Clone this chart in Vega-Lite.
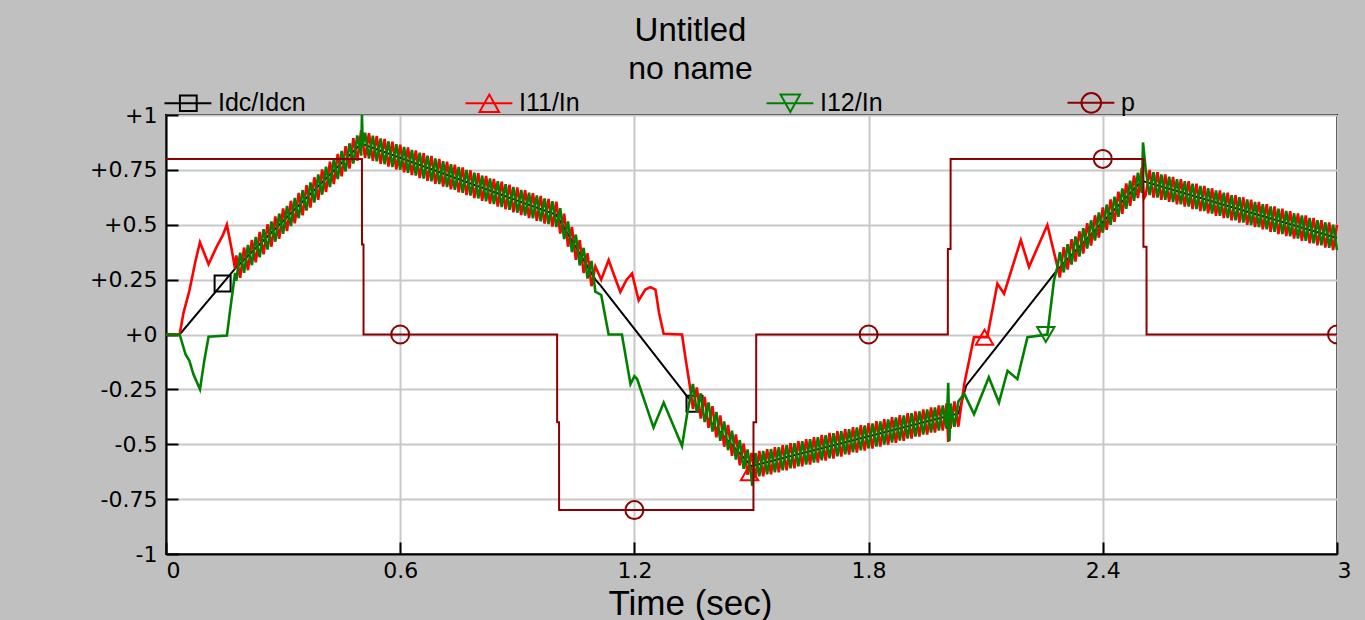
{
  "$schema": "https://vega.github.io/schema/vega-lite/v6.json",
  "width": 1171,
  "height": 439,
  "autosize": {"type": "none"},
  "padding": {"left": 166, "top": 115, "right": 28, "bottom": 66},
  "background": "#c0c0c0",
  "title": {
    "text": "Untitled",
    "subtitle": "no name",
    "anchor": "middle",
    "frame": "group",
    "dx": -61,
    "font": "Liberation Sans",
    "fontSize": 33,
    "fontWeight": "normal",
    "color": "black",
    "subtitleFont": "Liberation Sans",
    "subtitleFontSize": 32,
    "subtitleColor": "black",
    "subtitlePadding": 6,
    "offset": 5
  },
  "config": {
    "view": {"fill": "white", "stroke": "black", "strokeWidth": 2},
    "axis": {
      "grid": true,
      "gridColor": "#c8c8c8",
      "gridWidth": 2,
      "domainColor": "black",
      "domainWidth": 2,
      "tickColor": "black",
      "tickWidth": 2,
      "tickSize": -12,
      "labelFont": "DejaVu Sans",
      "labelFontSize": 22,
      "labelColor": "black",
      "titleFont": "Liberation Sans",
      "titleFontWeight": "normal",
      "titleColor": "black"
    }
  },
  "datasets": {
    "idc": [
      {"t":0,"v":0},{"t":0.035,"v":0},{"t":0.177,"v":0.30},{"t":0.5,"v":0.87},{"t":1.0,"v":0.545},{"t":1.10,"v":0.25},{"t":1.113,"v":0.224},{"t":1.335,"v":-0.282},{"t":1.5,"v":-0.6},{"t":2.03,"v":-0.36},{"t":2.05,"v":-0.233},{"t":2.284,"v":0.295},{"t":2.5,"v":0.70},{"t":3.0,"v":0.44}
    ],
    "i11": [
      {"t":0,"v":0},{"t":0.035,"v":0},{"t":0.045,"v":0.1},{"t":0.06,"v":0.2},{"t":0.075,"v":0.33},{"t":0.087,"v":0.42},{"t":0.098,"v":0.37},{"t":0.109,"v":0.32},{"t":0.13,"v":0.40},{"t":0.145,"v":0.45},{"t":0.156,"v":0.50},{"t":0.167,"v":0.40},{"t":0.177,"v":0.30},
      {"t":0.18,"v":0.360},{"t":0.19,"v":0.258},{"t":0.20,"v":0.396},{"t":0.21,"v":0.293},{"t":0.22,"v":0.431},{"t":0.23,"v":0.329},{"t":0.24,"v":0.467},{"t":0.25,"v":0.365},{"t":0.26,"v":0.502},{"t":0.27,"v":0.400},{"t":0.28,"v":0.538},{"t":0.29,"v":0.436},{"t":0.30,"v":0.574},{"t":0.31,"v":0.471},{"t":0.32,"v":0.609},{"t":0.33,"v":0.507},{"t":0.34,"v":0.645},{"t":0.35,"v":0.543},{"t":0.36,"v":0.680},{"t":0.37,"v":0.578},{"t":0.38,"v":0.716},{"t":0.39,"v":0.614},{"t":0.40,"v":0.752},{"t":0.41,"v":0.649},{"t":0.42,"v":0.787},{"t":0.43,"v":0.685},{"t":0.44,"v":0.823},{"t":0.45,"v":0.721},{"t":0.46,"v":0.858},{"t":0.47,"v":0.756},{"t":0.48,"v":0.894},{"t":0.49,"v":0.792},{"t":0.50,"v":0.930},
      {"t":0.51,"v":0.804},{"t":0.52,"v":0.917},{"t":0.53,"v":0.791},{"t":0.54,"v":0.904},{"t":0.55,"v":0.778},{"t":0.56,"v":0.891},{"t":0.57,"v":0.765},{"t":0.58,"v":0.878},{"t":0.59,"v":0.752},{"t":0.60,"v":0.865},{"t":0.61,"v":0.739},{"t":0.62,"v":0.852},{"t":0.63,"v":0.726},{"t":0.64,"v":0.839},{"t":0.65,"v":0.713},{"t":0.66,"v":0.826},{"t":0.67,"v":0.700},{"t":0.68,"v":0.813},{"t":0.69,"v":0.687},{"t":0.70,"v":0.800},{"t":0.71,"v":0.674},{"t":0.72,"v":0.787},{"t":0.73,"v":0.661},{"t":0.74,"v":0.774},{"t":0.75,"v":0.648},{"t":0.76,"v":0.761},{"t":0.77,"v":0.635},{"t":0.78,"v":0.748},{"t":0.79,"v":0.622},{"t":0.80,"v":0.735},{"t":0.81,"v":0.609},{"t":0.82,"v":0.722},{"t":0.83,"v":0.596},{"t":0.84,"v":0.709},{"t":0.85,"v":0.583},{"t":0.86,"v":0.696},{"t":0.87,"v":0.570},{"t":0.88,"v":0.683},{"t":0.89,"v":0.557},{"t":0.90,"v":0.670},{"t":0.91,"v":0.544},{"t":0.92,"v":0.657},{"t":0.93,"v":0.531},{"t":0.94,"v":0.644},{"t":0.95,"v":0.518},{"t":0.96,"v":0.631},{"t":0.97,"v":0.505},{"t":0.98,"v":0.618},{"t":0.99,"v":0.492},{"t":1.00,"v":0.605},
      {"t":1.01,"v":0.460},{"t":1.02,"v":0.550},{"t":1.03,"v":0.400},{"t":1.04,"v":0.490},{"t":1.05,"v":0.340},{"t":1.06,"v":0.430},{"t":1.07,"v":0.280},{"t":1.08,"v":0.370},{"t":1.09,"v":0.220},{"t":1.10,"v":0.310},
      {"t":1.115,"v":0.25},{"t":1.134,"v":0.339},{"t":1.148,"v":0.27},{"t":1.164,"v":0.194},{"t":1.18,"v":0.25},{"t":1.194,"v":0.278},{"t":1.211,"v":0.155},{"t":1.228,"v":0.205},{"t":1.241,"v":0.216},{"t":1.254,"v":0.205},{"t":1.263,"v":0.10},{"t":1.275,"v":0.003},{"t":1.322,"v":0.0},{"t":1.332,"v":-0.12},{"t":1.344,"v":-0.256},
      {"t":1.35,"v":-0.340},{"t":1.36,"v":-0.241},{"t":1.37,"v":-0.383},{"t":1.38,"v":-0.284},{"t":1.39,"v":-0.425},{"t":1.40,"v":-0.327},{"t":1.41,"v":-0.468},{"t":1.42,"v":-0.369},{"t":1.43,"v":-0.511},{"t":1.44,"v":-0.412},{"t":1.45,"v":-0.553},{"t":1.46,"v":-0.455},{"t":1.47,"v":-0.596},{"t":1.48,"v":-0.497},{"t":1.49,"v":-0.639},{"t":1.50,"v":-0.540},
      {"t":1.51,"v":-0.655},{"t":1.52,"v":-0.531},{"t":1.53,"v":-0.646},{"t":1.54,"v":-0.522},{"t":1.55,"v":-0.637},{"t":1.56,"v":-0.513},{"t":1.57,"v":-0.628},{"t":1.58,"v":-0.504},{"t":1.59,"v":-0.619},{"t":1.60,"v":-0.495},{"t":1.61,"v":-0.610},{"t":1.62,"v":-0.486},{"t":1.63,"v":-0.601},{"t":1.64,"v":-0.477},{"t":1.65,"v":-0.592},{"t":1.66,"v":-0.468},{"t":1.67,"v":-0.583},{"t":1.68,"v":-0.458},{"t":1.69,"v":-0.574},{"t":1.70,"v":-0.449},{"t":1.71,"v":-0.565},{"t":1.72,"v":-0.440},{"t":1.73,"v":-0.556},{"t":1.74,"v":-0.431},{"t":1.75,"v":-0.547},{"t":1.76,"v":-0.422},{"t":1.77,"v":-0.538},{"t":1.78,"v":-0.413},{"t":1.79,"v":-0.529},{"t":1.80,"v":-0.404},{"t":1.81,"v":-0.520},{"t":1.82,"v":-0.395},{"t":1.83,"v":-0.511},{"t":1.84,"v":-0.386},{"t":1.85,"v":-0.502},{"t":1.86,"v":-0.377},{"t":1.87,"v":-0.493},{"t":1.88,"v":-0.368},{"t":1.89,"v":-0.484},{"t":1.90,"v":-0.359},{"t":1.91,"v":-0.474},{"t":1.92,"v":-0.350},{"t":1.93,"v":-0.465},{"t":1.94,"v":-0.341},{"t":1.95,"v":-0.456},{"t":1.96,"v":-0.332},{"t":1.97,"v":-0.447},{"t":1.98,"v":-0.323},{"t":1.99,"v":-0.438},{"t":2.00,"v":-0.314},{"t":2.004,"v":-0.49},{"t":2.007,"v":-0.33},{"t":2.01,"v":-0.429},{"t":2.02,"v":-0.305},{"t":2.03,"v":-0.420},
      {"t":2.045,"v":-0.226},{"t":2.07,"v":-0.012},{"t":2.104,"v":-0.012},{"t":2.13,"v":0.232},{"t":2.147,"v":0.186},{"t":2.19,"v":0.43},{"t":2.211,"v":0.308},{"t":2.258,"v":0.499},{"t":2.284,"v":0.308},
      {"t":2.29,"v":0.260},{"t":2.30,"v":0.398},{"t":2.31,"v":0.296},{"t":2.32,"v":0.434},{"t":2.33,"v":0.332},{"t":2.34,"v":0.470},{"t":2.35,"v":0.369},{"t":2.36,"v":0.507},{"t":2.37,"v":0.405},{"t":2.38,"v":0.543},{"t":2.39,"v":0.441},{"t":2.40,"v":0.579},{"t":2.41,"v":0.477},{"t":2.42,"v":0.615},{"t":2.43,"v":0.513},{"t":2.44,"v":0.651},{"t":2.45,"v":0.550},{"t":2.46,"v":0.688},{"t":2.47,"v":0.586},{"t":2.48,"v":0.724},{"t":2.49,"v":0.622},{"t":2.50,"v":0.760},{"t":2.505,"v":0.62},
      {"t":2.51,"v":0.635},{"t":2.52,"v":0.750},{"t":2.53,"v":0.624},{"t":2.54,"v":0.739},{"t":2.55,"v":0.614},{"t":2.56,"v":0.729},{"t":2.57,"v":0.604},{"t":2.58,"v":0.718},{"t":2.59,"v":0.593},{"t":2.60,"v":0.708},{"t":2.61,"v":0.583},{"t":2.62,"v":0.698},{"t":2.63,"v":0.572},{"t":2.64,"v":0.687},{"t":2.65,"v":0.562},{"t":2.66,"v":0.677},{"t":2.67,"v":0.552},{"t":2.68,"v":0.666},{"t":2.69,"v":0.541},{"t":2.70,"v":0.656},{"t":2.71,"v":0.531},{"t":2.72,"v":0.646},{"t":2.73,"v":0.520},{"t":2.74,"v":0.635},{"t":2.75,"v":0.510},{"t":2.76,"v":0.625},{"t":2.77,"v":0.500},{"t":2.78,"v":0.614},{"t":2.79,"v":0.489},{"t":2.80,"v":0.604},{"t":2.81,"v":0.479},{"t":2.82,"v":0.594},{"t":2.83,"v":0.468},{"t":2.84,"v":0.583},{"t":2.85,"v":0.458},{"t":2.86,"v":0.573},{"t":2.87,"v":0.448},{"t":2.88,"v":0.562},{"t":2.89,"v":0.437},{"t":2.90,"v":0.552},{"t":2.91,"v":0.427},{"t":2.92,"v":0.542},{"t":2.93,"v":0.416},{"t":2.94,"v":0.531},{"t":2.95,"v":0.406},{"t":2.96,"v":0.521},{"t":2.97,"v":0.396},{"t":2.98,"v":0.510},{"t":2.99,"v":0.385},{"t":3.00,"v":0.500}
    ],
    "i12": [
      {"t":0,"v":0},{"t":0.035,"v":0},{"t":0.05,"v":-0.09},{"t":0.06,"v":-0.12},{"t":0.07,"v":-0.18},{"t":0.087,"v":-0.25},{"t":0.098,"v":-0.12},{"t":0.109,"v":-0.01},{"t":0.156,"v":-0.005},{"t":0.165,"v":0.12},{"t":0.177,"v":0.28},
      {"t":0.18,"v":0.245},{"t":0.19,"v":0.373},{"t":0.20,"v":0.281},{"t":0.21,"v":0.408},{"t":0.22,"v":0.316},{"t":0.23,"v":0.444},{"t":0.24,"v":0.352},{"t":0.25,"v":0.480},{"t":0.26,"v":0.387},{"t":0.27,"v":0.515},{"t":0.28,"v":0.423},{"t":0.29,"v":0.551},{"t":0.30,"v":0.459},{"t":0.31,"v":0.586},{"t":0.32,"v":0.494},{"t":0.33,"v":0.622},{"t":0.34,"v":0.530},{"t":0.35,"v":0.658},{"t":0.36,"v":0.565},{"t":0.37,"v":0.693},{"t":0.38,"v":0.601},{"t":0.39,"v":0.729},{"t":0.40,"v":0.637},{"t":0.41,"v":0.764},{"t":0.42,"v":0.672},{"t":0.43,"v":0.800},{"t":0.44,"v":0.708},{"t":0.45,"v":0.836},{"t":0.46,"v":0.743},{"t":0.47,"v":0.871},{"t":0.48,"v":0.779},{"t":0.49,"v":0.907},{"t":0.50,"v":0.815},{"t":0.502,"v":1.0},{"t":0.504,"v":0.86},
      {"t":0.51,"v":0.919},{"t":0.52,"v":0.802},{"t":0.53,"v":0.906},{"t":0.54,"v":0.789},{"t":0.55,"v":0.893},{"t":0.56,"v":0.776},{"t":0.57,"v":0.880},{"t":0.58,"v":0.763},{"t":0.59,"v":0.867},{"t":0.60,"v":0.750},{"t":0.61,"v":0.854},{"t":0.62,"v":0.737},{"t":0.63,"v":0.841},{"t":0.64,"v":0.724},{"t":0.65,"v":0.828},{"t":0.66,"v":0.711},{"t":0.67,"v":0.815},{"t":0.68,"v":0.698},{"t":0.69,"v":0.802},{"t":0.70,"v":0.685},{"t":0.71,"v":0.789},{"t":0.72,"v":0.672},{"t":0.73,"v":0.776},{"t":0.74,"v":0.659},{"t":0.75,"v":0.763},{"t":0.76,"v":0.646},{"t":0.77,"v":0.750},{"t":0.78,"v":0.633},{"t":0.79,"v":0.737},{"t":0.80,"v":0.620},{"t":0.81,"v":0.724},{"t":0.82,"v":0.607},{"t":0.83,"v":0.711},{"t":0.84,"v":0.594},{"t":0.85,"v":0.698},{"t":0.86,"v":0.581},{"t":0.87,"v":0.685},{"t":0.88,"v":0.568},{"t":0.89,"v":0.672},{"t":0.90,"v":0.555},{"t":0.91,"v":0.659},{"t":0.92,"v":0.542},{"t":0.93,"v":0.646},{"t":0.94,"v":0.529},{"t":0.95,"v":0.633},{"t":0.96,"v":0.516},{"t":0.97,"v":0.620},{"t":0.98,"v":0.503},{"t":0.99,"v":0.607},{"t":1.00,"v":0.490},
      {"t":1.01,"v":0.575},{"t":1.02,"v":0.435},{"t":1.03,"v":0.515},{"t":1.04,"v":0.375},{"t":1.05,"v":0.455},{"t":1.06,"v":0.315},{"t":1.07,"v":0.395},{"t":1.08,"v":0.255},{"t":1.09,"v":0.335},{"t":1.10,"v":0.195},
      {"t":1.115,"v":0.18},{"t":1.134,"v":0.0},{"t":1.168,"v":0.0},{"t":1.19,"v":-0.226},{"t":1.2,"v":-0.19},{"t":1.207,"v":-0.203},{"t":1.249,"v":-0.424},{"t":1.275,"v":-0.31},{"t":1.322,"v":-0.508},{"t":1.335,"v":-0.363},{"t":1.344,"v":-0.28},
      {"t":1.35,"v":-0.225},{"t":1.36,"v":-0.356},{"t":1.37,"v":-0.268},{"t":1.38,"v":-0.399},{"t":1.39,"v":-0.310},{"t":1.40,"v":-0.442},{"t":1.41,"v":-0.353},{"t":1.42,"v":-0.484},{"t":1.43,"v":-0.396},{"t":1.44,"v":-0.527},{"t":1.45,"v":-0.438},{"t":1.46,"v":-0.570},{"t":1.47,"v":-0.481},{"t":1.48,"v":-0.612},{"t":1.49,"v":-0.524},{"t":1.50,"v":-0.655},{"t":1.502,"v":-0.69},
      {"t":1.51,"v":-0.540},{"t":1.52,"v":-0.646},{"t":1.53,"v":-0.531},{"t":1.54,"v":-0.637},{"t":1.55,"v":-0.522},{"t":1.56,"v":-0.628},{"t":1.57,"v":-0.513},{"t":1.58,"v":-0.619},{"t":1.59,"v":-0.504},{"t":1.60,"v":-0.610},{"t":1.61,"v":-0.495},{"t":1.62,"v":-0.601},{"t":1.63,"v":-0.486},{"t":1.64,"v":-0.592},{"t":1.65,"v":-0.477},{"t":1.66,"v":-0.583},{"t":1.67,"v":-0.468},{"t":1.68,"v":-0.573},{"t":1.69,"v":-0.459},{"t":1.70,"v":-0.564},{"t":1.71,"v":-0.450},{"t":1.72,"v":-0.555},{"t":1.73,"v":-0.441},{"t":1.74,"v":-0.546},{"t":1.75,"v":-0.432},{"t":1.76,"v":-0.537},{"t":1.77,"v":-0.423},{"t":1.78,"v":-0.528},{"t":1.79,"v":-0.414},{"t":1.80,"v":-0.519},{"t":1.81,"v":-0.405},{"t":1.82,"v":-0.510},{"t":1.83,"v":-0.396},{"t":1.84,"v":-0.501},{"t":1.85,"v":-0.387},{"t":1.86,"v":-0.492},{"t":1.87,"v":-0.378},{"t":1.88,"v":-0.483},{"t":1.89,"v":-0.369},{"t":1.90,"v":-0.474},{"t":1.91,"v":-0.359},{"t":1.92,"v":-0.465},{"t":1.93,"v":-0.350},{"t":1.94,"v":-0.456},{"t":1.95,"v":-0.341},{"t":1.96,"v":-0.447},{"t":1.97,"v":-0.332},{"t":1.98,"v":-0.438},{"t":1.99,"v":-0.323},{"t":2.00,"v":-0.429},{"t":2.004,"v":-0.22},{"t":2.007,"v":-0.485},{"t":2.01,"v":-0.314},{"t":2.02,"v":-0.420},{"t":2.03,"v":-0.305},
      {"t":2.045,"v":-0.27},{"t":2.07,"v":-0.363},{"t":2.108,"v":-0.195},{"t":2.134,"v":-0.31},{"t":2.156,"v":-0.165},{"t":2.181,"v":-0.203},{"t":2.207,"v":-0.012},{"t":2.258,"v":0.0},{"t":2.275,"v":0.247},{"t":2.284,"v":0.31},
      {"t":2.29,"v":0.375},{"t":2.30,"v":0.283},{"t":2.31,"v":0.411},{"t":2.32,"v":0.319},{"t":2.33,"v":0.447},{"t":2.34,"v":0.355},{"t":2.35,"v":0.484},{"t":2.36,"v":0.392},{"t":2.37,"v":0.520},{"t":2.38,"v":0.428},{"t":2.39,"v":0.556},{"t":2.40,"v":0.464},{"t":2.41,"v":0.592},{"t":2.42,"v":0.500},{"t":2.43,"v":0.628},{"t":2.44,"v":0.536},{"t":2.45,"v":0.665},{"t":2.46,"v":0.573},{"t":2.47,"v":0.701},{"t":2.48,"v":0.609},{"t":2.49,"v":0.737},{"t":2.50,"v":0.645},{"t":2.503,"v":0.875},
      {"t":2.51,"v":0.750},{"t":2.52,"v":0.635},{"t":2.53,"v":0.739},{"t":2.54,"v":0.624},{"t":2.55,"v":0.729},{"t":2.56,"v":0.614},{"t":2.57,"v":0.719},{"t":2.58,"v":0.603},{"t":2.59,"v":0.708},{"t":2.60,"v":0.593},{"t":2.61,"v":0.698},{"t":2.62,"v":0.583},{"t":2.63,"v":0.687},{"t":2.64,"v":0.572},{"t":2.65,"v":0.677},{"t":2.66,"v":0.562},{"t":2.67,"v":0.667},{"t":2.68,"v":0.551},{"t":2.69,"v":0.656},{"t":2.70,"v":0.541},{"t":2.71,"v":0.646},{"t":2.72,"v":0.531},{"t":2.73,"v":0.635},{"t":2.74,"v":0.520},{"t":2.75,"v":0.625},{"t":2.76,"v":0.510},{"t":2.77,"v":0.615},{"t":2.78,"v":0.499},{"t":2.79,"v":0.604},{"t":2.80,"v":0.489},{"t":2.81,"v":0.594},{"t":2.82,"v":0.479},{"t":2.83,"v":0.583},{"t":2.84,"v":0.468},{"t":2.85,"v":0.573},{"t":2.86,"v":0.458},{"t":2.87,"v":0.563},{"t":2.88,"v":0.447},{"t":2.89,"v":0.552},{"t":2.90,"v":0.437},{"t":2.91,"v":0.542},{"t":2.92,"v":0.427},{"t":2.93,"v":0.531},{"t":2.94,"v":0.416},{"t":2.95,"v":0.521},{"t":2.96,"v":0.406},{"t":2.97,"v":0.511},{"t":2.98,"v":0.395},{"t":2.99,"v":0.500},{"t":3.00,"v":0.385}
    ],
    "p": [
      {"t":0,"v":0.8},{"t":0.502,"v":0.8},{"t":0.5021,"v":0.41},{"t":0.506,"v":0.41},{"t":0.5061,"v":0.0},{"t":1.002,"v":0.0},{"t":1.0021,"v":-0.4},{"t":1.007,"v":-0.4},{"t":1.0071,"v":-0.8},{"t":1.505,"v":-0.8},{"t":1.5051,"v":-0.4},{"t":1.512,"v":-0.4},{"t":1.5121,"v":0.0},{"t":2.003,"v":0.0},{"t":2.0031,"v":0.39},{"t":2.01,"v":0.39},{"t":2.0101,"v":0.8},{"t":2.504,"v":0.8},{"t":2.5041,"v":0.4},{"t":2.512,"v":0.4},{"t":2.5121,"v":0.0},{"t":3.0,"v":0.0}
    ],
    "markers": [
      {"s":"Idc/Idcn","t":0.145,"v":0.232},{"s":"Idc/Idcn","t":1.354,"v":-0.316},
      {"s":"I11/In","t":1.495,"v":-0.63},{"s":"I11/In","t":2.097,"v":-0.012},
      {"s":"I12/In","t":2.254,"v":0.0},
      {"s":"p","t":0.6,"v":0},{"s":"p","t":1.2,"v":-0.8},{"s":"p","t":1.8,"v":0},{"s":"p","t":2.4,"v":0.8},{"s":"p","t":3.0,"v":0}
    ]
  },
  "encoding": {
    "x": {
      "field": "t",
      "type": "quantitative",
      "scale": {"domain": [0, 3], "nice": false, "zero": false},
      "axis": {
        "values": [0, 0.6, 1.2, 1.8, 2.4, 3],
        "format": "~g",
        "labelFlush": false,
        "labelPadding": 18,
        "labelAlign": {"condition": {"test": "datum.value == 0 || datum.value == 3", "value": "left"}, "value": "center"},
        "title": "Time (sec)",
        "titleFontSize": 35,
        "titleX": 524,
        "titleY": 32,
        "titleBaseline": "top"
      }
    },
    "y": {
      "field": "v",
      "type": "quantitative",
      "scale": {"domain": [-1, 1], "nice": false, "zero": false},
      "axis": {
        "values": [-1, -0.75, -0.5, -0.25, 0, 0.25, 0.5, 0.75, 1],
        "labelExpr": "(datum.value < 0 ? '-' : '+') + format(abs(datum.value), '~g')",
        "labelPadding": 21,
        "title": null
      }
    }
  },
  "layer": [
    {"data": {"name": "idc"}, "mark": {"type": "line", "color": "black", "strokeWidth": 2}},
    {"data": {"name": "markers"}, "transform": [{"filter": "datum.s == 'Idc/Idcn'"}], "mark": {"type": "point", "shape": "square", "filled": false, "color": "black", "opacity": 1, "strokeWidth": 2, "size": 256}},
    {"data": {"name": "i11"}, "mark": {"type": "line", "color": "#ff0000", "strokeWidth": 2.6}},
    {"data": {"name": "markers"}, "transform": [{"filter": "datum.s == 'I11/In'"}], "mark": {"type": "point", "shape": "triangle-up", "filled": false, "color": "#ff0000", "opacity": 1, "strokeWidth": 2, "size": 300}},
    {"data": {"name": "i12"}, "mark": {"type": "line", "color": "#008000", "strokeWidth": 2.6}},
    {"data": {"name": "markers"}, "transform": [{"filter": "datum.s == 'I12/In'"}], "mark": {"type": "point", "shape": "triangle-down", "filled": false, "color": "#008000", "opacity": 1, "strokeWidth": 2, "size": 300}},
    {"data": {"name": "p"}, "mark": {"type": "line", "color": "#8b0000", "strokeWidth": 2}},
    {"data": {"name": "markers"}, "transform": [{"filter": "datum.s == 'p'"}], "mark": {"type": "point", "shape": "circle", "filled": false, "color": "#8b0000", "opacity": 1, "strokeWidth": 2, "size": 324, "clip": true}},
    {
      "data": {"name": "markers"},
      "mark": {"type": "point", "filled": false, "opacity": 0, "strokeWidth": 2, "size": 196},
      "encoding": {
        "color": {
          "field": "s",
          "type": "nominal",
          "scale": {"domain": ["Idc/Idcn", "I11/In", "I12/In", "p"], "range": ["#000000", "#ff0000", "#008000", "#8b0000"]},
          "legend": {"title": null, "orient": "top", "direction": "horizontal", "columns": 4, "gridAlign": "all", "columnPadding": 155, "symbolSize": 196, "symbolStrokeWidth": 2, "symbolOpacity": 1, "labelFont": "Liberation Sans", "labelFontSize": 25, "labelColor": "black", "labelOffset": 27, "offset": -2, "padding": 0}
        },
        "shape": {
          "field": "s",
          "type": "nominal",
          "scale": {"domain": ["Idc/Idcn", "I11/In", "I12/In", "p"], "range": ["M-2,0H4.7M0.2,-1.1H2.6V1.1H0.2Z", "M-2,0H4.7M1.4,-1.25L2.8,1.25H0Z", "M-2,0H4.7M1.4,1.25L2.8,-1.25H0Z", "M-2,0H4.7M0,0A1.4,1.4 0 1,0 2.8,0A1.4,1.4 0 1,0 0,0Z"]},
          "legend": {"title": null, "orient": "top", "direction": "horizontal", "columns": 4, "gridAlign": "all", "columnPadding": 155, "symbolSize": 196, "symbolStrokeWidth": 2, "symbolOpacity": 1, "labelFont": "Liberation Sans", "labelFontSize": 25, "labelColor": "black", "labelOffset": 27, "offset": -2, "padding": 0}
        }
      }
    }
  ]
}
